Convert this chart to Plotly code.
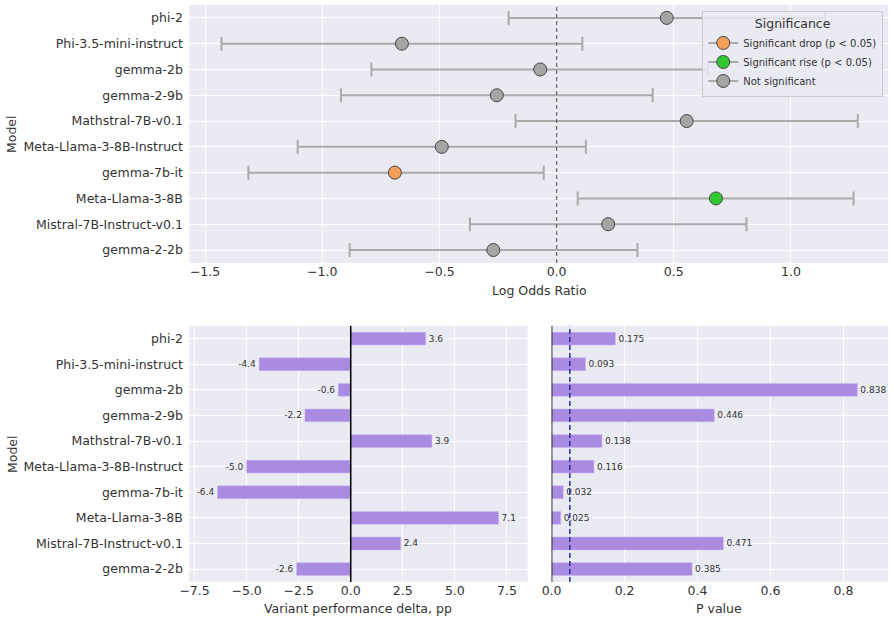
import plotly.graph_objects as go

models = ["phi-2", "Phi-3.5-mini-instruct", "gemma-2b", "gemma-2-9b", "Mathstral-7B-v0.1",
          "Meta-Llama-3-8B-Instruct", "gemma-7b-it", "Meta-Llama-3-8B",
          "Mistral-7B-Instruct-v0.1", "gemma-2-2b"]
log_or = [0.47, -0.66, -0.07, -0.255, 0.555, -0.49, -0.69, 0.68, 0.22, -0.27]
ci_low = [-0.205, -1.43, -0.79, -0.92, -0.175, -1.105, -1.315, 0.09, -0.37, -0.883]
ci_high = [1.145, 0.11, 0.645, 0.41, 1.285, 0.125, -0.055, 1.267, 0.81, 0.345]
delta_pp = [3.6, -4.4, -0.6, -2.2, 3.9, -5.0, -6.4, 7.1, 2.4, -2.6]
p_values = [0.175, 0.093, 0.838, 0.446, 0.138, 0.116, 0.032, 0.025, 0.471, 0.385]
alpha = 0.05

C_DROP = "#f5a05a"
C_RISE = "#32c832"
C_NS = "#a5a5a5"
ERR = "#aaaaaa"
BAR = "#a98be2"
TXT = "#333333"
FONT = "DejaVu Sans"
W, H = 894, 623

def sig_color(lo, p):
    if p < alpha and lo < 0:
        return C_DROP
    if p < alpha and lo > 0:
        return C_RISE
    return C_NS

colors = [sig_color(l, p) for l, p in zip(log_or, p_values)]

fig = go.Figure()

fig.add_trace(go.Scatter(
    x=log_or, y=models, mode="markers", showlegend=False,
    marker=dict(size=13, color=colors, line=dict(color="#444444", width=1)),
    error_x=dict(type="data", symmetric=False,
                 array=[h - v for h, v in zip(ci_high, log_or)],
                 arrayminus=[v - l for l, v in zip(ci_low, log_or)],
                 color=ERR, thickness=2, width=7),
    xaxis="x", yaxis="y"))

for name, c in [("Significant drop (p < 0.05)", C_DROP),
                ("Significant rise (p < 0.05)", C_RISE),
                ("Not significant", C_NS)]:
    fig.add_trace(go.Scatter(
        x=[None], y=[None], mode="lines+markers", name=name,
        line=dict(color=ERR, width=2),
        marker=dict(size=13, color=c, line=dict(color="#444444", width=1)),
        xaxis="x", yaxis="y"))

fig.add_trace(go.Bar(
    x=delta_pp, y=models, orientation="h", width=0.5,
    marker=dict(color=BAR, line=dict(color="#c8b6f0", width=0.5)),
    text=[f"{v:.1f}" for v in delta_pp], textposition="outside",
    textfont=dict(size=9, color=TXT, family=FONT), cliponaxis=False,
    constraintext="none", showlegend=False, xaxis="x2", yaxis="y2"))

fig.add_trace(go.Bar(
    x=p_values, y=models, orientation="h", width=0.5,
    marker=dict(color=BAR, line=dict(color="#c8b6f0", width=0.5)),
    text=[f"{v:.3f}" for v in p_values], textposition="outside",
    textfont=dict(size=9, color=TXT, family=FONT), cliponaxis=False,
    constraintext="none", showlegend=False, xaxis="x3", yaxis="y3"))

base = dict(showgrid=True, gridcolor="white", gridwidth=1, zeroline=False,
            showline=False, automargin=False,
            tickfont=dict(size=12.5, color=TXT, family=FONT))
xax = dict(**base, ticks="")
yax = dict(**base, ticks="outside", ticklen=3, tickcolor="rgba(0,0,0,0)",
           type="category", categoryorder="array", categoryarray=models,
           range=[9.5, -0.5])
title_font = dict(size=12.5, color=TXT, family=FONT)

def label(text, px, py, angle=0):
    return dict(text=text, x=px / W, y=1 - py / H, xref="paper", yref="paper",
                xanchor="center", yanchor="middle", showarrow=False,
                textangle=angle, font=title_font)

fig.update_layout(
    width=W, height=H, margin=dict(l=0, r=0, t=0, b=0),
    paper_bgcolor="white", plot_bgcolor="#eaeaf2",
    font=dict(family=FONT, color=TXT, size=12.5),
    xaxis=dict(**xax, domain=[0.2118, 0.9933], anchor="y",
               range=[-1.567, 1.414], tickvals=[-1.5, -1.0, -0.5, 0.0, 0.5, 1.0],
               tickformat=".1f"),
    yaxis=dict(**yax, domain=[0.578, 0.992], anchor="x"),
    xaxis2=dict(**xax, domain=[0.2118, 0.5903], anchor="y2",
                range=[-7.75, 8.5], tickvals=[-7.5, -5.0, -2.5, 0.0, 2.5, 5.0, 7.5],
                tickformat=".1f"),
    yaxis2=dict(**yax, domain=[0.066, 0.477], anchor="x2"),
    xaxis3=dict(**xax, domain=[0.617, 0.9933], anchor="y3",
                range=[0, 0.922], tickvals=[0.0, 0.2, 0.4, 0.6, 0.8],
                tickformat=".1f"),
    yaxis3=dict(**yax, domain=[0.066, 0.477], anchor="x3", showticklabels=False),
    legend=dict(x=0.988, xanchor="right", y=0.982, yanchor="top",
                bgcolor="rgba(234,234,242,0.85)", bordercolor="#cccccc", borderwidth=1,
                font=dict(size=10, color=TXT, family=FONT),
                title=dict(text="Significance", side="top center",
                           font=dict(size=12.5, color=TXT)),
                tracegroupgap=0, itemwidth=30),
    shapes=[
        dict(type="line", xref="x", yref="y domain", x0=0, x1=0, y0=0, y1=1,
             line=dict(color="#666666", width=1.2, dash="4px,3px"), layer="above"),
        dict(type="line", xref="x2", yref="y2 domain", x0=0, x1=0, y0=0, y1=1,
             line=dict(color="black", width=1.5), layer="above"),
        dict(type="line", xref="x3", yref="y3 domain", x0=0, x1=0, y0=0, y1=1,
             line=dict(color="black", width=1.5), layer="above"),
        dict(type="line", xref="x3", yref="y3 domain", x0=alpha, x1=alpha, y0=0, y1=1,
             line=dict(color="#2a2a9a", width=1.5, dash="5px,3px"), layer="above"),
    ],
    annotations=[
        label("Model", 12, 134, -90),
        label("Model", 12, 454, -90),
        label("Log Odds Ratio", 539, 290),
        label("Variant performance delta, pp", 358, 608),
        label("P value", 719, 608),
    ],
)

fig.write_html("out.html")
